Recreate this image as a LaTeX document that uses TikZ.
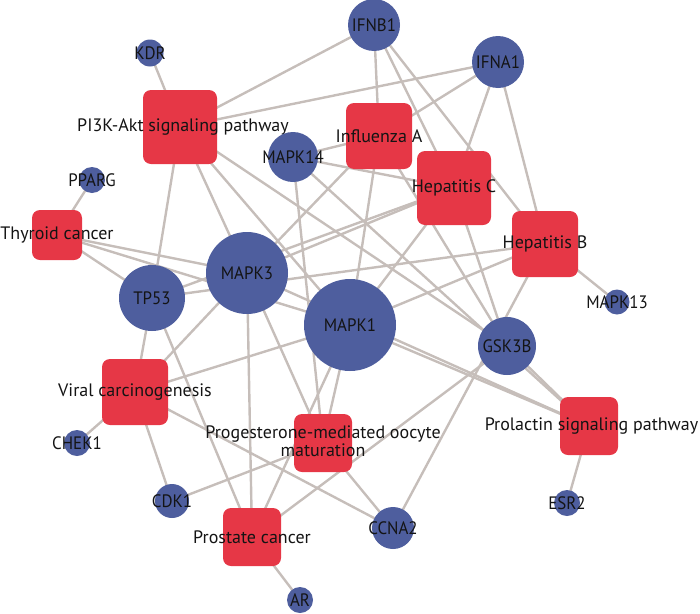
\documentclass[tikz,border=0pt]{standalone}
\usepackage{fontspec}
\setmainfont{PT Sans}
\newfontfamily\genefont[FakeStretch=0.94]{PT Sans}
\usetikzlibrary{backgrounds}
\definecolor{pathred}{RGB}{230,55,70}
\definecolor{geneblue}{RGB}{78,94,158}
\definecolor{edgegray}{RGB}{198,190,186}
\definecolor{labeltext}{RGB}{20,20,20}
\tikzset{
  gene/.style={circle, fill=geneblue, draw=none, inner sep=0pt, text=labeltext,
    font=\genefont\fontsize{18}{18}\selectfont},
  pathway/.style={rectangle, rounded corners=8pt, fill=pathred, draw=none, inner sep=0pt, text=labeltext,
    font=\fontsize{18}{21}\selectfont},
  edge/.style={draw=edgegray, line width=2.4pt}
}
\begin{document}
\begin{tikzpicture}[x=1pt,y=-1pt]
\useasboundingbox (0,0) rectangle (700,613);
% pathways
\node[pathway, minimum size=74pt] (PI3K) at (180,127) {\makebox[0pt]{\hspace{6pt}PI3K-Akt signaling pathway}};
\node[pathway, minimum size=66pt] (IA) at (379,136) {\makebox[0pt]{Influenza A}};
\node[pathway, minimum size=74pt] (HC) at (454,188) {\makebox[0pt]{Hepatitis C}};
\node[pathway, minimum size=66pt] (HB) at (545,244) {\makebox[0pt]{Hepatitis B}};
\node[pathway, minimum size=50pt] (TC) at (57,235) {\makebox[0pt]{Thyroid cancer}};
\node[pathway, minimum size=66pt] (VC) at (135,392) {\makebox[0pt]{Viral carcinogenesis}};
\node[pathway, minimum size=58pt] (PM) at (323,443) {\makebox[0pt]{\raisebox{-2pt}{\begin{tabular}{@{}c@{}}Progesterone-mediated oocyte\\[-3pt] maturation\end{tabular}}}};
\node[pathway, minimum size=58pt] (PC) at (252,537) {\makebox[0pt]{Prostate cancer}};
\node[pathway, minimum size=58pt] (PL) at (589,426) {\makebox[0pt]{\hspace{5pt}Prolactin signaling pathway}};
% genes
\node[gene, minimum size=27pt] (KDR) at (150,53) {\makebox[0pt]{KDR}};
\node[gene, minimum size=52pt] (IFNB1) at (374,25) {\makebox[0pt]{IFNB1}};
\node[gene, minimum size=52pt] (IFNA1) at (498,62) {\makebox[0pt]{IFNA1}};
\node[gene, minimum size=50pt] (MAPK14) at (293,157) {\makebox[0pt]{MAPK14}};
\node[gene, minimum size=26pt] (PPARG) at (92,180) {\makebox[0pt]{PPARG}};
\node[gene, minimum size=82pt] (MAPK3) at (247,273) {\makebox[0pt]{MAPK3}};
\node[gene, minimum size=66pt] (TP53) at (152,298) {\makebox[0pt]{TP53}};
\node[gene, minimum size=92pt] (MAPK1) at (350,325) {\makebox[0pt]{MAPK1}};
\node[gene, minimum size=58pt] (GSK3B) at (507,346) {\makebox[0pt]{GSK3B}};
\node[gene, minimum size=25pt] (MAPK13) at (617,302) {\makebox[0pt]{MAPK13}};
\node[gene, minimum size=26pt] (CHEK1) at (77,443) {\makebox[0pt]{CHEK1}};
\node[gene, minimum size=34pt] (CDK1) at (172,501) {\makebox[0pt]{CDK1}};
\node[gene, minimum size=42pt] (CCNA2) at (393,528) {\makebox[0pt]{CCNA2}};
\node[gene, minimum size=26pt] (ESR2) at (567,503) {\makebox[0pt]{ESR2}};
\node[gene, minimum size=26pt] (AR) at (300,600) {\makebox[0pt]{AR}};
% edges
\begin{pgfonlayer}{background}
\foreach \g in {KDR,IFNB1,IFNA1,TP53,MAPK3,MAPK1,GSK3B} \draw[edge] (PI3K.center) -- (\g.center);
\foreach \g in {IFNB1,IFNA1,MAPK14,MAPK3,MAPK1,GSK3B} \draw[edge] (IA.center) -- (\g.center);
\foreach \g in {IFNB1,IFNA1,MAPK14,MAPK3,TP53,MAPK1,GSK3B} \draw[edge] (HC.center) -- (\g.center);
\foreach \g in {IFNB1,IFNA1,MAPK13,TP53,MAPK1,CCNA2} \draw[edge] (HB.center) -- (\g.center);
\foreach \g in {PPARG,MAPK3,MAPK1,TP53} \draw[edge] (TC.center) -- (\g.center);
\foreach \g in {CHEK1,CDK1,CCNA2,TP53,MAPK3,MAPK1} \draw[edge] (VC.center) -- (\g.center);
\foreach \g in {CDK1,CCNA2,MAPK3,MAPK14,MAPK1} \draw[edge] (PM.center) -- (\g.center);
\foreach \g in {AR,TP53,MAPK3,MAPK1,GSK3B} \draw[edge] (PC.center) -- (\g.center);
\foreach \g in {ESR2,MAPK1,MAPK3,MAPK14,GSK3B} \draw[edge] (PL.center) -- (\g.center);
\end{pgfonlayer}
\end{tikzpicture}
\end{document}
